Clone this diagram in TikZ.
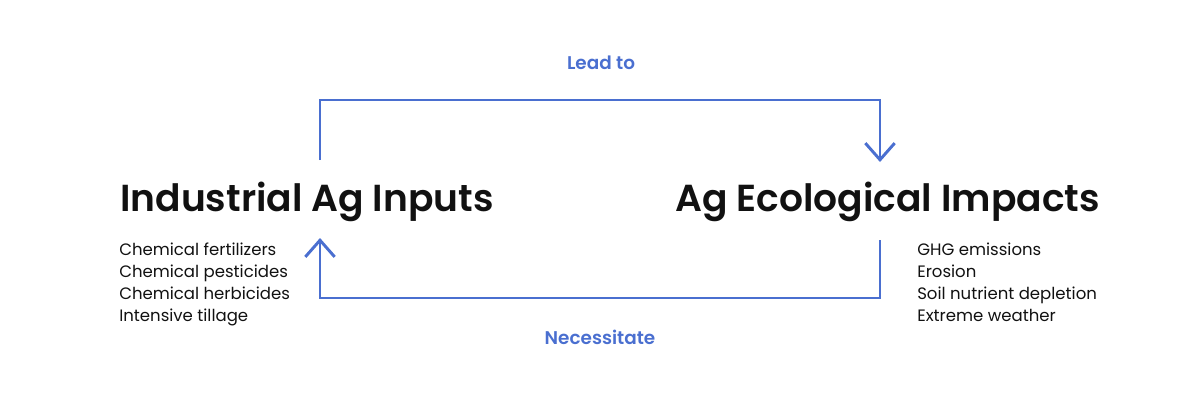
\documentclass[tikz,border=0pt]{standalone}
\usepackage{fontspec}
\setmainfont{Poppins}
\newfontfamily\headfont{Poppins SemiBold}
\usetikzlibrary{arrows.meta}
\definecolor{flowblue}{HTML}{4A6FD0}
\definecolor{txt}{HTML}{111111}
\begin{document}
\begin{tikzpicture}[x=0.75pt,y=-0.75pt,
  heading/.style={font=\headfont\fontsize{28.2}{32}\selectfont, text=txt, inner sep=0pt},
  items/.style={font=\fontsize{12.4}{16.5}\selectfont, text=txt, inner sep=0pt, align=left},
  lbl/.style={font=\headfont\fontsize{13.8}{16}\selectfont, text=flowblue, inner sep=0pt},
  flow/.style={draw=flowblue, line width=2.2pt, -{Straight Barb[length=12.5pt,width=22pt,line width=2.2pt]}}]
\useasboundingbox (0,0) rectangle (1200,400);
\node[heading, anchor=base west] (inputs) at (120,211) {Industrial Ag Inputs};
\node[heading, anchor=base east] (impacts) at (1100,211) {Ag Ecological Impacts};
\node[items, anchor=north west] (inlist) at (119,243) {Chemical fertilizers\\Chemical pesticides\\Chemical herbicides\\Intensive tillage};
\node[items, anchor=north west] (implist) at (917,243) {GHG emissions\\Erosion\\Soil nutrient depletion\\Extreme weather};
\coordinate (a1) at (320,160);
\coordinate (a2) at (880,162);
\coordinate (b1) at (880,240);
\coordinate (b2) at (320,238);
\draw[flow] (a1) -- (320,100) -- (880,100) -- (a2);
\draw[flow] (b1) -- (880,298) -- (320,298) -- (b2);
\node[lbl] (lead) at (601,63) {Lead to};
\node[lbl] (nec) at (600,337) {Necessitate};
\end{tikzpicture}
\end{document}
